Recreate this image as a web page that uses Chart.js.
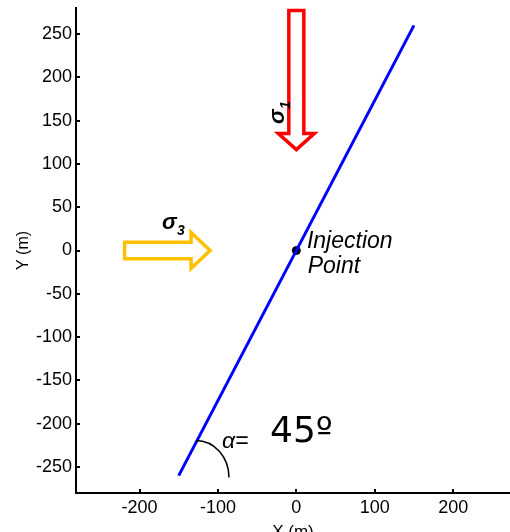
<!DOCTYPE html>
<html>
<head>
<meta charset="utf-8">
<script src="https://cdn.jsdelivr.net/npm/chart.js@4/dist/chart.umd.min.js"></script>
<style>
html, body { margin: 0; padding: 0; background: #fff; }
canvas { display: block; }
</style>
</head>
<body>
<canvas id="grafico" width="510" height="532"></canvas>
<script>
// dados do gráfico
const faultX = [-150, 150];
const faultY = [-260, 260];
const injectionX = [0];
const injectionY = [0];
const xTicks = [-200, -100, 0, 100, 200];
const yTicks = [250, 200, 150, 100, 50, 0, -50, -100, -150, -200, -250];
const xTitle = 'X (m)';
const yTitle = 'Y (m)';
const angleLabel = '45º';

const fontBase = '"Liberation Sans", Arial, sans-serif';

// setas, textos e arco (posições em unidades do gráfico)
const annot = {
    sigma1: { tail: [0, 277], tip: [0, 116.5], shaft: 7.5, head: 18, headLen: 16, color: '#ff0000' },
    sigma3: { tail: [-219, 0], tip: [-110, 0], shaft: 8.25, head: 18, headLen: 19, color: '#ffc000' },
    arc: { center: [-128, -262], rx: 33, ry: 37 }
};

function toPx(chart, p) {
    return [chart.scales.x.getPixelForValue(p[0]), chart.scales.y.getPixelForValue(p[1])];
}

function drawArrow(ctx, chart, a) {
    var t = toPx(chart, a.tail), h = toPx(chart, a.tip);
    var ang = Math.atan2(h[1] - t[1], h[0] - t[0]);
    var len = Math.hypot(h[0] - t[0], h[1] - t[1]);
    ctx.save();
    ctx.translate(t[0], t[1]);
    ctx.rotate(ang);
    ctx.beginPath();
    ctx.moveTo(0, -a.shaft);
    ctx.lineTo(len - a.headLen, -a.shaft);
    ctx.lineTo(len - a.headLen, -a.head);
    ctx.lineTo(len, 0);
    ctx.lineTo(len - a.headLen, a.head);
    ctx.lineTo(len - a.headLen, a.shaft);
    ctx.lineTo(0, a.shaft);
    ctx.closePath();
    ctx.fillStyle = '#fff';
    ctx.fill();
    ctx.strokeStyle = a.color;
    ctx.lineWidth = 3.5;
    ctx.lineJoin = 'miter';
    ctx.stroke();
    ctx.restore();
}

const anotacoes = {
    id: 'anotacoes',
    afterDatasetsDraw: function (chart) {
        var ctx = chart.ctx;
        drawArrow(ctx, chart, annot.sigma1);
        drawArrow(ctx, chart, annot.sigma3);

        // arco do ângulo
        var c = toPx(chart, annot.arc.center);
        ctx.save();
        ctx.beginPath();
        ctx.ellipse(c[0], c[1], annot.arc.rx, annot.arc.ry, 0, -Math.PI / 2, 0);
        ctx.strokeStyle = '#000';
        ctx.lineWidth = 1.5;
        ctx.stroke();
        ctx.restore();

        ctx.save();
        ctx.fillStyle = '#000';
        ctx.textBaseline = 'middle';
        ctx.textAlign = 'left';

        // Injection Point
        ctx.font = 'italic 23px ' + fontBase;
        var p = toPx(chart, [13.5, 10.5]);
        ctx.fillText('Injection', p[0], p[1]);
        p = toPx(chart, [14.5, -18.5]);
        ctx.fillText('Point', p[0], p[1]);

        // sigma 3
        ctx.textBaseline = 'alphabetic';
        ctx.font = 'bold italic 22px ' + fontBase;
        ctx.fillText('σ', 162, 229);
        ctx.font = 'bold italic 14px ' + fontBase;
        ctx.fillText('3', 177, 235);

        // sigma 1 (rodado)
        ctx.save();
        ctx.translate(284, 124);
        ctx.rotate(-Math.PI / 2);
        ctx.font = 'bold italic 22px ' + fontBase;
        ctx.fillText('σ', 0, 0);
        ctx.font = 'bold italic 14px ' + fontBase;
        ctx.fillText('1', 15, 6);
        ctx.restore();

        // alfa
        ctx.textBaseline = 'middle';
        ctx.font = 'italic 23px ' + fontBase;
        ctx.fillText('α=', 222, 442);
        ctx.font = '36px "DejaVu Sans", sans-serif';
        ctx.fillText(angleLabel, 270, 433);
        ctx.restore();
    }
};

var ctx = document.getElementById('grafico').getContext('2d');
var grafico = new Chart(ctx, {
    type: 'scatter',
    data: {
        datasets: [{
            data: faultX.map((x, i) => ({ x: x, y: faultY[i] })),
            showLine: true,
            borderColor: '#0000ff',
            borderWidth: 3,
            pointRadius: 0
        }, {
            data: injectionX.map((x, i) => ({ x: x, y: injectionY[i] })),
            pointRadius: 4,
            backgroundColor: '#000',
            borderColor: '#000'
        }]
    },
    options: {
        responsive: false,
        animation: false,
        layout: { autoPadding: false, padding: { top: 8, left: 0, right: 0, bottom: 0 } },
        plugins: {
            legend: { display: false },
            tooltip: { enabled: false }
        },
        scales: {
            x: {
                type: 'linear',
                min: -281,
                max: 272.5,
                afterBuildTicks: function (scale) {
                    scale.ticks = xTicks.map(v => ({ value: v }));
                },
                afterFit: function (scale) {
                    scale.height = 39;
                    scale.paddingLeft = 0;
                    scale.paddingRight = 0;
                },
                border: { display: true, color: '#000', width: 2 },
                grid: { drawOnChartArea: false, drawTicks: true, tickLength: -4, color: '#000', lineWidth: 2 },
                ticks: { color: '#000', padding: 8, font: { family: fontBase, size: 18 } },
                title: { display: true, text: xTitle, color: '#000', font: { family: fontBase, size: 17 }, padding: { top: 0, bottom: -11 } }
            },
            y: {
                type: 'linear',
                min: -280,
                max: 280,
                afterBuildTicks: function (scale) {
                    scale.ticks = yTicks.map(v => ({ value: v }));
                },
                afterFit: function (scale) {
                    scale.width = 76;
                    scale.paddingTop = 0;
                    scale.paddingBottom = 0;
                },
                border: { display: true, color: '#000', width: 2 },
                grid: { drawOnChartArea: false, drawTicks: true, tickLength: -4, color: '#000', lineWidth: 2 },
                ticks: { color: '#000', padding: 8, font: { family: fontBase, size: 18 } },
                title: { display: true, text: yTitle, color: '#000', font: { family: fontBase, size: 16 }, padding: { top: 14, bottom: 0 } }
            }
        }
    },
    plugins: [anotacoes]
});
</script>
</body>
</html>
